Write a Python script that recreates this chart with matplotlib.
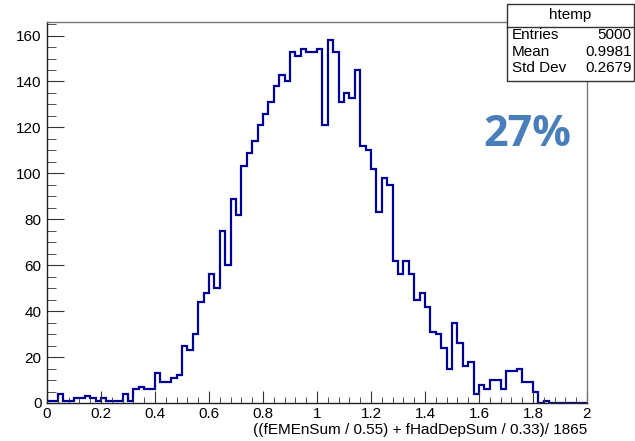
import numpy as np
import matplotlib
matplotlib.use('Agg')
import matplotlib.pyplot as plt
from matplotlib.patches import Rectangle
from matplotlib.lines import Line2D
from matplotlib.ticker import MultipleLocator

plt.rcParams['font.family'] = ['Liberation Sans', 'DejaVu Sans']

# histogram "htemp": 100 bins between 0 and 2
x_min, x_max, n_bins = 0.0, 2.0, 100
counts = [1, 1, 4, 1, 1, 2, 2, 3, 2, 1,
          2, 1, 1, 1, 4, 1, 6, 7, 6, 6,
          13, 9, 9, 11, 12, 25, 23, 30, 44, 48,
          56, 50, 75, 60, 89, 82, 103, 109, 114, 121,
          126, 131, 138, 143, 140, 153, 151, 154, 153, 153,
          154, 121, 158, 153, 131, 135, 133, 145, 112, 110,
          102, 83, 98, 95, 62, 56, 62, 56, 45, 48,
          42, 31, 30, 24, 15, 35, 26, 16, 18, 4,
          8, 6, 10, 10, 6, 14, 14, 15, 9, 9,
          5, 0, 1, 0, 0, 0, 0, 0, 0, 0]

stat_names = ['Entries', 'Mean', 'Std Dev']
stat_values = ['5000', '0.9981', '0.2679']
hist_name = 'htemp'
x_title = '((fEMEnSum / 0.55) + fHadDepSum / 0.33)/ 1865'
note = '27%'

edges = np.linspace(x_min, x_max, n_bins + 1)

fig = plt.figure(figsize=(6.35, 4.41), dpi=100)
ax = fig.add_axes([0.074, 0.0862, 0.8504, 0.8639])

ax.stairs(counts, edges, color='#000099', linewidth=1.6, baseline=0)

ax.set_xlim(x_min, x_max)
ax.set_ylim(0, max(counts) * 1.05)

ax.xaxis.set_major_locator(MultipleLocator(0.2))
ax.xaxis.set_minor_locator(MultipleLocator(0.04))
ax.yaxis.set_major_locator(MultipleLocator(20))
ax.yaxis.set_minor_locator(MultipleLocator(5))
ax.xaxis.set_major_formatter(plt.FuncFormatter(lambda v, p: '%g' % round(v, 2)))

ax.tick_params(axis='both', which='both', direction='in', top=False, right=False,
               labelsize=11, color='#333333')
ax.tick_params(axis='x', which='major', length=8.6, pad=3)
ax.tick_params(axis='x', which='minor', length=4.3)
ax.tick_params(axis='y', which='major', length=12, pad=4)
ax.tick_params(axis='y', which='minor', length=6.5)

for side in ['left', 'bottom']:
    ax.spines[side].set_color('#222222')
    ax.spines[side].set_linewidth(1.0)
for side in ['top', 'right']:
    ax.spines[side].set_color('#777777')
    ax.spines[side].set_linewidth(1.0)

ax.text(1.0, -0.071, x_title, transform=ax.transAxes, ha='right', va='center',
        fontsize=11)

# stats box
bx0, bx1, by0, by1 = 0.7984, 0.998, 0.817, 0.991
fig.patches.append(Rectangle((bx0, by0), bx1 - bx0, by1 - by0, transform=fig.transFigure,
                             facecolor='white', edgecolor='#333333', linewidth=1.0, zorder=5))
fig.lines.append(Line2D([bx0, bx1], [0.939, 0.939], transform=fig.transFigure,
                        color='#333333', linewidth=1.0, zorder=6))
fig.text((bx0 + bx1) / 2, 0.966, hist_name, ha='center', va='center', fontsize=11, zorder=7)
row_y = [0.921, 0.882, 0.845]
for name, val, yy in zip(stat_names, stat_values, row_y):
    fig.text(0.806, yy, name, ha='left', va='center', fontsize=11, zorder=7)
    fig.text(0.995, yy, val, ha='right', va='center', fontsize=11, zorder=7)

fig.text(0.831, 0.694, note, ha='center', va='center', fontsize=31,
         fontweight='bold', color='#4a7ebb', family=['Open Sans', 'DejaVu Sans'])

fig.savefig('out.png', dpi=100)
